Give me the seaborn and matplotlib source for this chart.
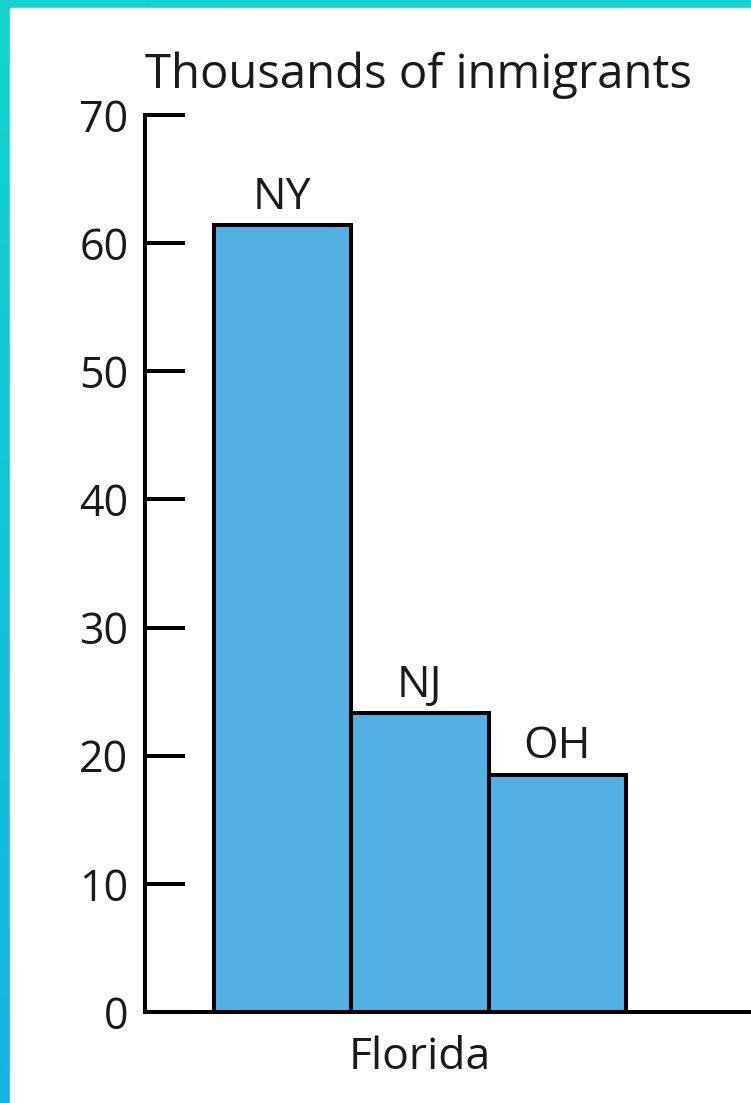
import numpy as np
import pandas as pd
import matplotlib
matplotlib.use('Agg')
import matplotlib.pyplot as plt
import seaborn as sns

# data
states = ['NY', 'NJ', 'OH']
immigrants = [61.4, 23.3, 18.5]   # thousands
group_label = 'Florida'
y_ticks = [0, 10, 20, 30, 40, 50, 60, 70]

df = pd.DataFrame({'state': states, 'immigrants': immigrants})

sns.set_theme(style='white')
plt.rcParams['font.family'] = ['Open Sans', 'DejaVu Sans']

W, H = 751, 1103
fig = plt.figure(figsize=(W / 100, H / 100), dpi=100)

# cyan frame (gradient) behind a white panel
bg = fig.add_axes([0, 0, 1, 1], zorder=-2)
yy, xx = np.mgrid[0:1:200j, 0:1:200j]
top = np.array([0.08, 0.83, 0.80])
bot = np.array([0.07, 0.71, 0.89])
right = np.array([0.12, 0.82, 0.88])
grad = (top[None, None, :] * (1 - yy[..., None]) + bot[None, None, :] * yy[..., None]) * (1 - xx[..., None] * 0.3) \
    + right[None, None, :] * xx[..., None] * 0.3
bg.imshow(grad, extent=[0, 1, 0, 1], origin='upper', aspect='auto')
bg.add_patch(plt.Rectangle((10 / W, 0), 1, 1 - 8 / H, color='white', transform=bg.transAxes))
bg.set_axis_off()

ax = fig.add_axes([145 / W, (H - 1012) / H, (W - 145) / W, (1012 - 115) / H])
ax.set_facecolor('white')
sns.barplot(data=df, x='state', y='immigrants', color='#52b0e4', saturation=1,
            edgecolor='black', linewidth=2.9, width=1.0, ax=ax)

ax.set_ylim(0, 70)
ax.set_xlim(-1.0, 3.41)
ax.set_yticks(y_ticks)
ax.set_xticks([1], [group_label])
ax.set_xlabel('')
ax.set_ylabel('')

for s in ['top', 'right']:
    ax.spines[s].set_visible(False)
for s in ['left', 'bottom']:
    ax.spines[s].set_linewidth(2.9)
    ax.spines[s].set_color('black')

ax.tick_params(axis='y', direction='in', length=29, width=2.9, color='black',
               labelsize=31, pad=12, labelcolor='#1a1a1a', left=True)
ax.tick_params(axis='x', length=0, labelsize=32, pad=17, labelcolor='#1a1a1a')

ax.bar_label(ax.containers[0], labels=states, padding=4, fontsize=32, color='#1a1a1a')

fig.text(145 / W, 1 - 88 / H, 'Thousands of inmigrants', fontsize=34, color='#1a1a1a',
         ha='left', va='baseline')

fig.savefig('out.png', dpi=100)
